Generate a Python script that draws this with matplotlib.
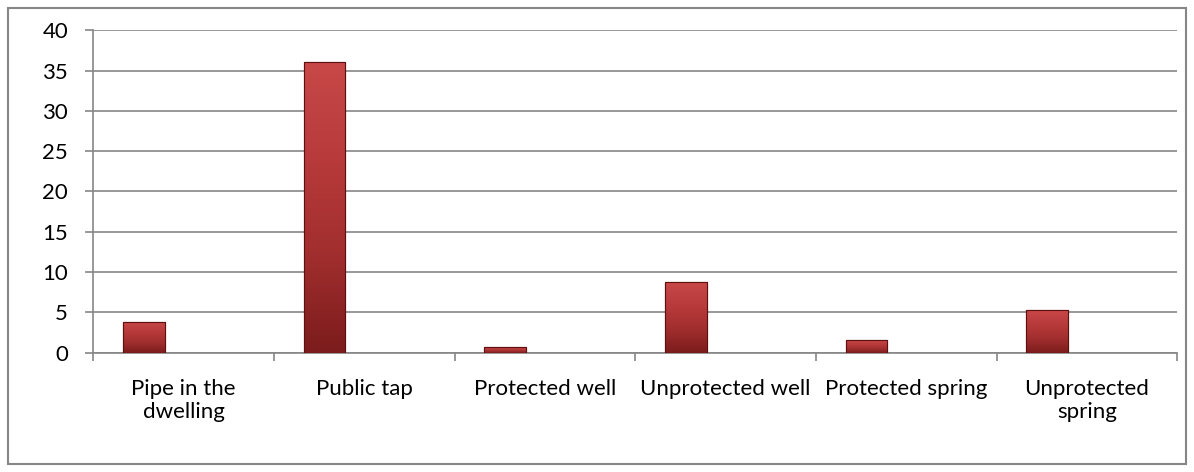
import numpy as np
import matplotlib.pyplot as plt
from matplotlib.patches import Rectangle
from matplotlib.colors import LinearSegmentedColormap

categories = ['Pipe in the\ndwelling', 'Public tap', 'Protected well',
              'Unprotected well', 'Protected spring', 'Unprotected\nspring']
values = [3.85, 36.0, 0.7, 8.8, 1.6, 5.3]
yticks = [0, 5, 10, 15, 20, 25, 30, 35, 40]

plt.rcParams['font.family'] = ['Lato', 'DejaVu Sans']

fig = plt.figure(figsize=(11.94, 4.72), dpi=100)
ax = fig.add_axes([0.078, 0.253, 0.908, 0.683])

x = np.arange(len(categories))
bars = ax.bar(x - 0.22, values, width=0.23, color='#a83131',
              edgecolor='#5e1010', linewidth=0.8, zorder=3)

# bevel-ish shading on each bar: lighter top, darker bottom
cmap = LinearSegmentedColormap.from_list('barshade', ['#7c1c1c', '#a12e2e', '#b83a3a', '#c84848'])
grad = np.linspace(0, 1, 100).reshape(-1, 1)
for b in bars:
    x0, w, h = b.get_x(), b.get_width(), b.get_height()
    im = ax.imshow(grad, cmap=cmap, aspect='auto', origin='lower',
                   extent=[x0, x0 + w, 0, h], zorder=3.5)
    im.set_clip_path(b)
    ax.add_patch(Rectangle((x0, 0), w, h, fill=False, edgecolor='#5e1010',
                           linewidth=0.8, zorder=4))

ax.set_xlim(-0.5, len(categories) - 0.5)
ax.set_ylim(0, 40)
ax.set_yticks(yticks)
ax.yaxis.grid(True, color='#868686', linewidth=1.2, zorder=0)

# category labels at centers, ticks at boundaries
ax.set_xticks(x)
ax.set_xticklabels(categories, fontsize=16)
ax.tick_params(axis='x', length=0, pad=19)
ax.set_xticks(np.arange(len(categories) + 1) - 0.5, minor=True)
ax.tick_params(axis='x', which='minor', length=6, color='#868686', width=1.2)
ax.tick_params(axis='y', labelsize=16, length=6, color='#868686', width=1.2, pad=12)

for s in ['top', 'right']:
    ax.spines[s].set_visible(False)
for s in ['left', 'bottom']:
    ax.spines[s].set_color('#868686')
    ax.spines[s].set_linewidth(1.2)

fig.patches.append(Rectangle((0.007, 0.017), 0.986, 0.966, transform=fig.transFigure,
                             fill=False, edgecolor='#868686', linewidth=1.5))

plt.savefig('out.png', dpi=100)
